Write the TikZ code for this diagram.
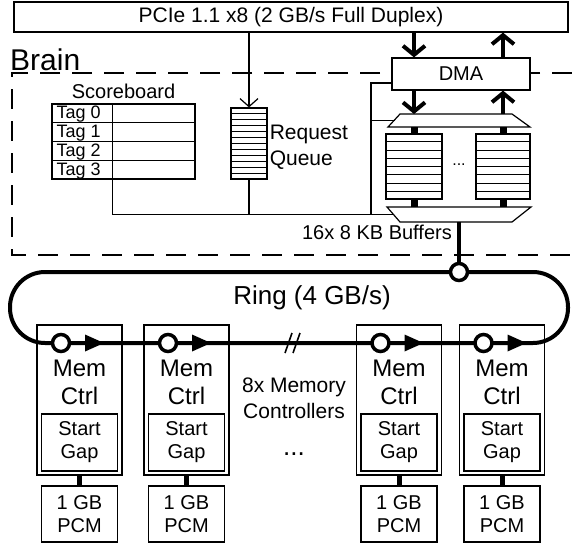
\documentclass[tikz,border=0pt]{standalone}
\usepackage{fontspec}
\setmainfont{Liberation Sans}
\usetikzlibrary{arrows.meta,positioning,calc}

\begin{document}
\begin{tikzpicture}[x=1pt, y=-1pt,
    box/.style={draw, line width=1.2pt, inner sep=0pt, align=center, font=\fontsize{20}{23}\selectfont},
    lbl/.style={inner sep=0pt, align=center, font=\fontsize{21}{26}\selectfont},
    wire/.style={line width=1.2pt},
    stripe/.style={line width=0.9pt},
    fat/.style={line width=4pt, -{Straight Barb[length=9pt,width=22pt]}},
    ring/.style={line width=4pt},
    tap/.style={circle, draw, fill=white, line width=3.5pt, minimum size=17pt, inner sep=0pt}
]
\useasboundingbox (0,0) rectangle (572,544);

\node[box, minimum width=554pt, minimum height=30pt, font=\fontsize{21}{24}\selectfont] (pcie) at (291,17) {PCIe 1.1 x8 (2 GB/s Full Duplex)};
\node[anchor=base west, inner sep=0pt, font=\fontsize{30}{30}\selectfont] (brain) at (10,70) {Brain};
\draw[wire, dash pattern=on 20pt off 12pt] (572,73) -- (12,73) -- (12,255) -- (572,255);

\node[box, fill=white, minimum width=138pt, minimum height=32pt] (dma) at (461,74) {DMA};
\draw[wire] (388,127) -- (400,114) coordinate (bufin-nw) -- (512,114) -- (530,127) -- cycle;
\coordinate (bufin-n) at (459,114);
\coordinate (bufin-s) at (459,127);
\coordinate (bufin-w) at (394.5,120.5);
\draw[wire] (387,207) -- (531,207) -- (512,222) -- (400,222) -- cycle;
\coordinate (bufout-n) at (459,207);
\coordinate (bufout-s) at (459,222);
\coordinate (bufout-w) at (393.5,214.5);
\node[box, minimum width=56pt, minimum height=65pt] (bufa) at (414,166.5) {};
\node[box, minimum width=54pt, minimum height=65pt] (bufb) at (503,166.5) {};
\foreach \b in {bufa,bufb} {
  \foreach \i in {1,...,7}
    \draw[stripe] ($(\b.north west)!\i/8!(\b.south west)$) -- ($(\b.north east)!\i/8!(\b.south east)$);
  \draw[line width=7pt] (bufin-s -| \b) -- (\b.north);
  \draw[line width=7pt] (\b.south) -- (bufout-n -| \b);
}
\node[lbl, font=\fontsize{16}{16}\selectfont] (bufdots) at (459,165) {...};
\node[anchor=base east, inner sep=0pt, font=\fontsize{20}{20}\selectfont] (bufname) at (452,239) {16x 8 KB Buffers};

\draw[fat] (pcie.south -| bufa) -- (dma.north -| bufa);
\draw[fat] (dma.north -| bufb) -- (pcie.south -| bufb);
\draw[fat] (dma.south -| bufa) -- (bufin-n -| bufa);
\draw[fat] (bufin-n -| bufb) -- (dma.south -| bufb);

\node[box, minimum width=36pt, minimum height=71pt] (rq) at (249,143.5) {};
\foreach \i in {1,...,11}
  \draw[stripe] ($(rq.north west)!\i/12!(rq.south west)$) -- ($(rq.north east)!\i/12!(rq.south east)$);
\draw[wire, -{Straight Barb[length=8pt,width=18pt]}] (pcie.south -| rq) -- (rq.north);
\node[lbl, anchor=west, align=left] (rqname) at ([xshift=2pt, yshift=-4pt]rq.east) {Request\\Queue};

\node[box, minimum width=143pt, minimum height=75pt] (sb) at (123.5,141.5) {};
\coordinate (sbcol) at ($(sb.south west)+(61,0)$);
\draw[wire] (sbcol) -- (sbcol |- sb.north);
\foreach \i in {1,2,3}
  \draw[wire] ($(sb.north west)!\i/4!(sb.south west)$) -- ($(sb.north east)!\i/4!(sb.south east)$);
\foreach \i in {0,...,3}
  \node[anchor=base west, inner sep=0pt, font=\fontsize{18}{18}\selectfont] (tag\i) at ($(sb.north west)+(5,15.5+18.75*\i)$) {Tag \i};
\node[lbl, font=\fontsize{20}{20}\selectfont, above=5pt of sb] (sbname) {Scoreboard};

\coordinate (tapx) at (371,83);
\draw[wire] (sbcol) |- (bufout-w);
\draw[wire] (rq.south) -- (rq.south |- bufout-w);
\draw[wire] (bufout-w -| tapx) -- (tapx) -- (tapx -| dma.west);
\draw[wire] (bufin-w -| tapx) -- (bufin-w);

\draw[ring, rounded corners=35pt] (10,272) rectangle (568,343);
\node[tap] (junc) at (459,272) {};
\draw[ring] (bufout-s) -- (junc.north);
\draw[wire, line width=1.6pt] (285,353) -- (292,333) (293,353) -- (300,333);
\node[lbl, font=\fontsize{26}{26}\selectfont] (ringname) at (312,298) {Ring (4 GB/s)};

\foreach \x [count=\n] in {79.5,186.5,399,502} {
  \node[box, minimum width=85pt, minimum height=150pt] (mc\n) at (\x,400) {};
  \node[lbl, anchor=north, font=\fontsize{24}{28}\selectfont] (mcname\n) at (\x,360) {Mem\\Ctrl};
  \node[box, minimum width=76pt, minimum height=57pt] (sg\n) at (\x,442.5) {Start\\Gap};
  \node[box, minimum width=76pt, minimum height=56pt] (pcm\n) at (\x,514) {1 GB\\PCM};
  \draw[line width=5pt] (mc\n.south) -- (pcm\n.north);
  \node[tap] (tap\n) at (\x-18.5,343) {};
  \fill ($(tap\n)+(24,-8.5)$) -- ++(19,8.5) -- ++(-19,8.5) -- cycle;
}
\node[lbl] (mcnote) at (294,398) {8x Memory\\Controllers};
\node[anchor=base, inner sep=0pt, font=\fontsize{26}{26}\selectfont] (mcdots) at (294,455) {...};
\end{tikzpicture}
\end{document}
